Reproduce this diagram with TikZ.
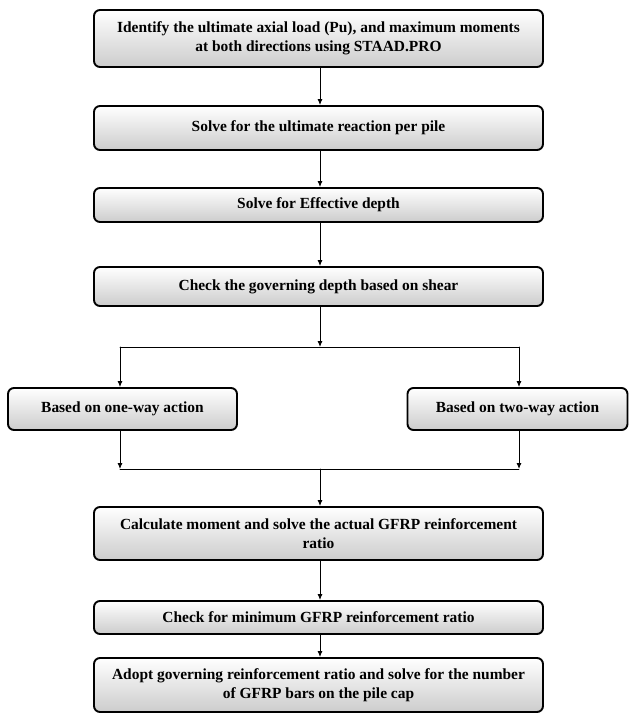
\documentclass[tikz,border=0pt]{standalone}
\usepackage{fontspec}
\setmainfont{Liberation Serif}
\usetikzlibrary{arrows.meta}
\begin{document}
\begin{tikzpicture}[x=1bp,y=-1bp,line join=round,line cap=round,>={Latex[length=6bp,width=5bp]},
	box/.style={draw,line width=1.9bp,rounded corners=6bp,top color=white,bottom color=black!20,
		align=center,inner sep=0pt,font=\fontsize{15.5}{19}\selectfont\bfseries},
	link/.style={->,line width=0.9bp}]
	\useasboundingbox (0,0) rectangle (629,713);
	%%Các hộp chính
	\node[box,minimum width=449bp,minimum height=57bp] (b1) at (318.5,38.5)
		{Identify the ultimate axial load (Pu), and maximum moments\\at both directions using STAAD.PRO};
	\node[box,minimum width=449bp,minimum height=44bp] (b2) at (318.5,128) {Solve for the ultimate reaction per pile};
	\node[box,minimum width=449bp,minimum height=34bp] (b3) at (318.5,205) {Solve for Effective depth};
	\node[box,minimum width=449bp,minimum height=39bp] (b4) at (318.5,286.5) {Check the governing depth based on shear};
	\node[box,minimum width=229bp,minimum height=42bp] (lb) at (122.5,409) {Based on one-way action};
	\node[box,minimum width=220bp,minimum height=42bp] (rb) at (517.5,409) {Based on two-way action};
	\node[box,minimum width=449bp,minimum height=53bp] (b5) at (318.5,533.5)
		{Calculate moment and solve the actual GFRP reinforcement\\ratio};
	\node[box,minimum width=449bp,minimum height=33bp] (b6) at (318.5,617.5) {Check for minimum GFRP reinforcement ratio};
	\node[box,minimum width=449bp,minimum height=54bp] (b7) at (318.5,685)
		{Adopt governing reinforcement ratio and solve for the number\\of GFRP bars on the pile cap};
	%%Các điểm rẽ nhánh
	\coordinate (sp) at (320,347);
	\coordinate (sl) at (120,347);
	\coordinate (sr) at (519,347);
	\coordinate (ml) at (120,469);
	\coordinate (mm) at (320,469);
	\coordinate (mr) at (519,469);
	%%Các mũi tên
	\draw[link] (b1.south-|sp)--(b2.north-|sp);
	\draw[link] (b2.south-|sp)--(b3.north-|sp);
	\draw[link] (b3.south-|sp)--(b4.north-|sp);
	\draw[link] (b4.south-|sp)--(sp);
	\draw[line width=0.9bp] (sl)--(sr);
	\draw[link] (sl)--(sl|-lb.north);
	\draw[link] (sr)--(sr|-rb.north);
	\draw[link] (lb.south-|ml)--(ml);
	\draw[link] (rb.south-|mr)--(mr);
	\draw[line width=0.9bp] (ml)--(mr);
	\draw[link] (mm)--(b5.north-|mm);
	\draw[link] (b5.south-|mm)--(b6.north-|mm);
	\draw[link] (b6.south-|mm)--(b7.north-|mm);
\end{tikzpicture}
\end{document}
